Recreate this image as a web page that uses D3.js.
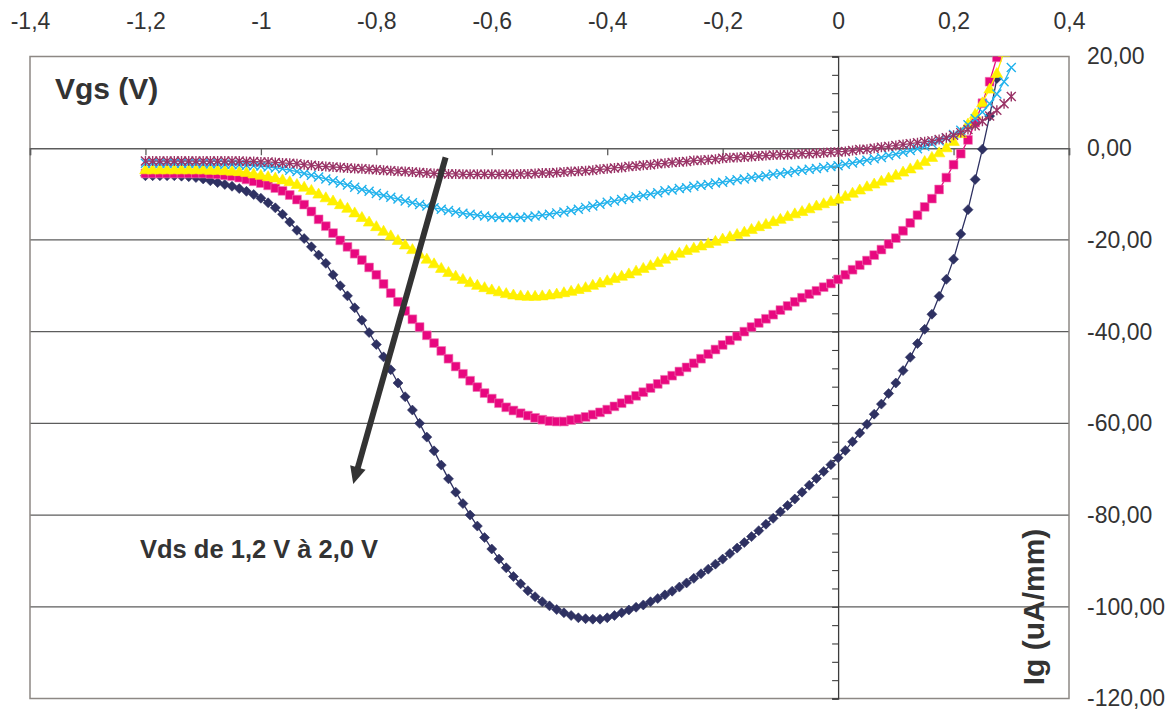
<!DOCTYPE html>
<html>
<head>
<meta charset="utf-8">
<script src="https://cdn.jsdelivr.net/npm/d3@7"></script>
<style>
  body { margin: 0; background: #fff; }
  svg { display: block; font-family: "Liberation Sans", Arial, sans-serif; }
</style>
</head>
<body>
<svg id="chart"></svg>
<script>
let svgWidth = 1174, svgHeight = 711

// Vgs sweep (V)
const vgs = [
  -1.2,-1.1875,-1.175,-1.1625,-1.15,-1.1375,-1.125,-1.1125,-1.1,-1.0875,
  -1.075,-1.0625,-1.05,-1.0375,-1.025,-1.0125,-1,-0.9875,-0.975,-0.9625,
  -0.95,-0.9375,-0.925,-0.9125,-0.9,-0.8875,-0.875,-0.8625,-0.85,-0.8375,
  -0.825,-0.8125,-0.8,-0.7875,-0.775,-0.7625,-0.75,-0.7375,-0.725,-0.7125,
  -0.7,-0.6875,-0.675,-0.6625,-0.65,-0.6375,-0.625,-0.6125,-0.6,-0.5875,
  -0.575,-0.5625,-0.55,-0.5375,-0.525,-0.5125,-0.5,-0.4875,-0.475,-0.4625,
  -0.45,-0.4375,-0.425,-0.4125,-0.4,-0.3875,-0.375,-0.3625,-0.35,-0.3375,
  -0.325,-0.3125,-0.3,-0.2875,-0.275,-0.2625,-0.25,-0.2375,-0.225,-0.2125,
  -0.2,-0.1875,-0.175,-0.1625,-0.15,-0.1375,-0.125,-0.1125,-0.1,-0.0875,
  -0.075,-0.0625,-0.05,-0.0375,-0.025,-0.0125,0,0.0125,0.025,0.0375,
  0.05,0.0625,0.075,0.0875,0.1,0.1125,0.125,0.1375,0.15,0.1625,
  0.175,0.1875,0.2,0.2125,0.225,0.2375,0.25,0.2625,0.275,0.2875,
  0.3
]

// Ig (uA/mm), one array per Vds curve
const igNavy = [
  -6.0,-6.0,-6.0,-6.0,-6.0,-6.1,-6.2,-6.4,-6.7,-7.1,
  -7.5,-7.9,-8.3,-8.8,-9.4,-10.1,-10.9,-11.9,-13.0,-14.4,
  -16.1,-17.9,-19.7,-21.5,-23.3,-25.1,-27.6,-30.0,-32.2,-34.8,
  -37.5,-40.2,-42.8,-45.5,-48.3,-51.2,-54.2,-57.1,-60.0,-63.0,
  -66.0,-69.1,-72.1,-75.0,-77.5,-80.0,-82.4,-84.9,-87.4,-89.6,
  -91.5,-93.4,-95.0,-96.5,-97.8,-98.9,-99.8,-100.6,-101.3,-101.9,
  -102.4,-102.6,-102.7,-102.7,-102.4,-101.9,-101.3,-100.7,-100.1,-99.6,
  -98.9,-98.2,-97.4,-96.6,-95.7,-94.8,-93.8,-92.8,-91.8,-90.7,
  -89.6,-88.4,-87.2,-86.0,-84.7,-83.4,-82.0,-80.7,-79.3,-77.9,
  -76.5,-75.0,-73.5,-72.0,-70.5,-69.0,-67.5,-65.9,-64.0,-62.1,
  -60.2,-58.0,-55.8,-53.5,-51.2,-48.5,-45.6,-42.6,-39.5,-36.2,
  -32.3,-28.6,-24.2,-18.7,-13.4,-6.8,-0.2,7.0,15.2
]
const igPink = [
  -5.5,-5.5,-5.5,-5.5,-5.5,-5.5,-5.5,-5.5,-5.5,-5.6,
  -5.7,-5.9,-6.1,-6.4,-6.8,-7.2,-7.6,-8.1,-8.7,-9.3,
  -10.2,-11.2,-12.3,-13.8,-15.5,-17.0,-18.5,-20.1,-21.5,-23.0,
  -24.4,-26.0,-27.6,-29.6,-31.6,-33.5,-35.5,-37.3,-39.0,-40.8,
  -42.5,-44.2,-45.9,-47.6,-49.2,-50.7,-52.1,-53.4,-54.6,-55.6,
  -56.5,-57.2,-57.8,-58.3,-58.8,-59.2,-59.5,-59.6,-59.6,-59.3,
  -59.0,-58.6,-58.1,-57.6,-57.0,-56.3,-55.6,-54.8,-54.0,-53.2,
  -52.3,-51.4,-50.5,-49.6,-48.7,-47.8,-46.9,-45.9,-44.9,-43.9,
  -42.9,-41.9,-41.0,-40.0,-39.0,-38.1,-37.2,-36.3,-35.3,-34.4,
  -33.5,-32.6,-31.8,-31.1,-30.3,-29.5,-28.6,-27.6,-26.5,-25.5,
  -24.5,-23.3,-22.1,-20.9,-19.6,-18.0,-16.3,-14.6,-12.8,-11.0,
  -9.0,-6.4,-3.6,-1.2,1.8,5.6,9.8,14.5,19.8
]
const igYellow = [
  -4.6,-4.6,-4.6,-4.6,-4.6,-4.6,-4.6,-4.6,-4.6,-4.7,
  -4.7,-4.8,-4.9,-5.0,-5.2,-5.5,-5.8,-6.1,-6.4,-6.8,
  -7.2,-7.8,-8.4,-9.1,-9.9,-10.7,-11.4,-12.2,-13.0,-14.0,
  -15.0,-16.0,-17.0,-18.0,-19.0,-20.0,-21.0,-22.0,-23.0,-24.1,
  -25.1,-26.1,-27.0,-27.8,-28.5,-29.2,-29.8,-30.3,-30.8,-31.2,
  -31.6,-31.9,-32.1,-32.2,-32.2,-32.1,-31.9,-31.7,-31.4,-31.1,
  -30.7,-30.3,-29.8,-29.3,-28.8,-28.3,-27.8,-27.3,-26.7,-26.1,
  -25.5,-24.8,-24.1,-23.4,-22.8,-22.2,-21.7,-21.2,-20.7,-20.2,
  -19.7,-19.2,-18.7,-18.2,-17.6,-17.0,-16.5,-15.9,-15.4,-14.8,
  -14.2,-13.7,-13.1,-12.5,-12.0,-11.5,-11.0,-10.4,-9.7,-9.0,
  -8.3,-7.7,-7.1,-6.4,-5.8,-5.1,-4.4,-3.6,-2.8,-1.9,
  -0.9,0.2,1.6,3.3,5.4,7.5,10.0,13.0,16.4,21.0
]
const igCyan = [
  -3.3,-3.3,-3.3,-3.3,-3.3,-3.3,-3.3,-3.3,-3.4,-3.4,
  -3.4,-3.5,-3.5,-3.6,-3.7,-3.8,-3.9,-4.1,-4.3,-4.5,
  -4.8,-5.1,-5.5,-5.9,-6.3,-6.7,-7.1,-7.6,-8.0,-8.5,
  -9.0,-9.4,-9.9,-10.3,-10.7,-11.1,-11.5,-11.9,-12.3,-12.6,
  -13.0,-13.3,-13.6,-13.9,-14.2,-14.4,-14.6,-14.8,-15.0,-15.1,
  -15.1,-15.1,-15.1,-15.0,-14.8,-14.6,-14.4,-14.1,-13.9,-13.6,
  -13.3,-12.9,-12.6,-12.2,-11.8,-11.5,-11.2,-10.9,-10.6,-10.3,
  -10.0,-9.7,-9.3,-9.1,-8.8,-8.6,-8.3,-8.1,-7.9,-7.6,
  -7.4,-7.1,-6.9,-6.7,-6.4,-6.2,-6.0,-5.7,-5.5,-5.3,
  -5.0,-4.8,-4.6,-4.4,-4.2,-4.0,-3.8,-3.5,-3.2,-2.9,
  -2.6,-2.3,-2.0,-1.6,-1.3,-0.9,-0.5,-0.1,0.4,1.0,
  1.6,2.2,3.0,3.9,5.1,6.4,7.9,9.7,11.8,14.5,
  17.6
]
const igMaroon = [
  -2.8,-2.8,-2.8,-2.8,-2.8,-2.8,-2.8,-2.8,-2.8,-2.8,
  -2.8,-2.8,-2.8,-2.8,-2.9,-2.9,-3.0,-3.0,-3.1,-3.2,
  -3.3,-3.4,-3.6,-3.7,-3.9,-4.0,-4.1,-4.2,-4.3,-4.4,
  -4.5,-4.6,-4.7,-4.8,-4.9,-5.0,-5.1,-5.2,-5.3,-5.4,
  -5.5,-5.5,-5.6,-5.6,-5.7,-5.7,-5.7,-5.7,-5.7,-5.7,
  -5.7,-5.7,-5.6,-5.6,-5.5,-5.4,-5.4,-5.3,-5.2,-5.1,
  -5.0,-4.9,-4.8,-4.6,-4.5,-4.3,-4.2,-4.0,-3.9,-3.7,
  -3.6,-3.4,-3.3,-3.1,-3.0,-2.9,-2.7,-2.6,-2.5,-2.4,
  -2.2,-2.1,-2.0,-1.9,-1.8,-1.7,-1.6,-1.5,-1.4,-1.4,
  -1.3,-1.2,-1.2,-1.1,-1.0,-0.9,-0.8,-0.7,-0.5,-0.3,
  -0.2,0.0,0.2,0.4,0.6,0.8,1.0,1.2,1.4,1.6,
  1.9,2.3,2.8,3.4,4.1,4.9,5.9,7.0,8.3,9.7,
  11.3
]

const xTicks = [-1.4, -1.2, -1, -0.8, -0.6, -0.4, -0.2, 0, 0.2, 0.4]
const yTicks = [20, 0, -20, -40, -60, -80, -100, -120]
const yMinorTicks = d3.range(-120, 20.1, 4)

const series = [
  { name: 'navy',   values: igNavy,   color: '#2e3162', marker: 'diamond' },
  { name: 'pink',   values: igPink,   color: '#e8087f', marker: 'square' },
  { name: 'yellow', values: igYellow, color: '#fff000', marker: 'triangle' },
  { name: 'cyan',   values: igCyan,   color: '#22b2ec', marker: 'x' },
  { name: 'maroon', values: igMaroon, color: '#9a3467', marker: 'star' }
]

const plot = { left: 30, right: 1069, top: 56.5, bottom: 698.5 }

let svg = d3.select('#chart').attr('width', svgWidth).attr('height', svgHeight)

let x = d3.scaleLinear().domain([-1.4, 0.4]).range([plot.left, plot.right])
let y = d3.scaleLinear().domain([-120, 20]).range([plot.bottom, plot.top])

const commaNum = d => String(d).replace('.', ',')

svg.append('defs').append('clipPath').attr('id', 'plotClip')
  .append('rect')
  .attr('x', plot.left).attr('y', plot.top)
  .attr('width', plot.right - plot.left).attr('height', plot.bottom - plot.top)

// horizontal gridlines
svg.append('g')
  .selectAll('line').data(yTicks.filter(d => d !== 20 && d !== -120 && d !== 0))
  .enter().append('line')
  .attr('x1', plot.left).attr('x2', plot.right)
  .attr('y1', d => y(d)).attr('y2', d => y(d))
  .attr('stroke', '#5c5c5c').attr('stroke-width', 1.2)

// plot frame
svg.append('rect')
  .attr('x', plot.left).attr('y', plot.top)
  .attr('width', plot.right - plot.left).attr('height', plot.bottom - plot.top)
  .attr('fill', 'none').attr('stroke', '#8d8884').attr('stroke-width', 1.5)

// x axis crossing at Ig = 0, ticks pointing down
let xAxisG = svg.append('g')
  .attr('transform', `translate(0,${y(0)})`)
  .call(d3.axisBottom(x).tickValues(xTicks).tickSize(7).tickFormat(''))
xAxisG.select('.domain').attr('stroke', '#5c5c5c').attr('stroke-width', 1.5)
xAxisG.selectAll('.tick line').attr('stroke', '#5c5c5c').attr('stroke-width', 1.3)

// y axis crossing at Vgs = 0, minor ticks to the left
let yAxisG = svg.append('g')
  .attr('transform', `translate(${x(0)},0)`)
  .call(d3.axisLeft(y).tickValues(yMinorTicks).tickSize(6).tickFormat(''))
yAxisG.select('.domain').attr('stroke', '#3c3c3c').attr('stroke-width', 1.3)
yAxisG.selectAll('.tick line').attr('stroke', '#3c3c3c').attr('stroke-width', 1.1)

// top tick labels
let xLabels = svg.append('g')
  .attr('transform', 'translate(0,21)')
  .call(d3.axisTop(x).tickValues(xTicks).tickSize(0).tickPadding(0).tickFormat(commaNum))
xLabels.select('.domain').remove()
xLabels.selectAll('text')
  .attr('dy', '0.35em')
  .style('font-size', '23px').style('fill', '#333')

// right tick labels
let yLabels = svg.append('g')
  .attr('transform', `translate(${plot.right},0)`)
  .call(d3.axisRight(y).tickValues(yTicks).tickSize(0).tickPadding(18)
    .tickFormat(d => d.toFixed(2).replace('.', ',')))
yLabels.select('.domain').remove()
yLabels.selectAll('text')
  .style('font-size', '23px').style('fill', '#333')

// marker shapes
function markerPath(kind){
  if(kind === 'diamond') return 'M0,-5L5,0L0,5L-5,0Z'
  if(kind === 'square') return 'M-4.4,-4.4H4.4V4.4H-4.4Z'
  if(kind === 'triangle') return 'M0,-5.5L5.8,4.5L-5.8,4.5Z'
  if(kind === 'x') return 'M-4.5,-4.5L4.5,4.5M-4.5,4.5L4.5,-4.5'
  return 'M-4.5,-4.5L4.5,4.5M-4.5,4.5L4.5,-4.5M0,-5V5'
}

let line = d3.line().x(d => x(d[0])).y(d => y(d[1]))

let seriesG = svg.append('g').attr('clip-path', 'url(#plotClip)')

series.forEach(s => {
  let pts = s.values.map((v, i) => [vgs[i], v])
  let g = seriesG.append('g').attr('class', 'series-' + s.name)
  g.append('path')
    .datum(pts)
    .attr('d', line)
    .attr('fill', 'none')
    .attr('stroke', s.color)
    .attr('stroke-width', 1.3)
  let filled = s.marker === 'diamond' || s.marker === 'square' || s.marker === 'triangle'
  g.selectAll('path.mk').data(pts)
    .enter().append('path')
    .attr('class', 'mk')
    .attr('transform', d => `translate(${x(d[0])},${y(d[1])})`)
    .attr('d', markerPath(s.marker))
    .attr('fill', filled ? s.color : 'none')
    .attr('stroke', filled ? (s.marker === 'square' ? '#f07ab5' : s.color) : s.color)
    .attr('stroke-width', filled ? 0.6 : 1.4)
})

// annotation arrow (Vds increasing)
const arrowFrom = [-0.68, -2], arrowTo = [-0.84, -73.2]
let ax0 = x(arrowFrom[0]), ay0 = y(arrowFrom[1]), ax1 = x(arrowTo[0]), ay1 = y(arrowTo[1])
let len = Math.hypot(ax1 - ax0, ay1 - ay0)
let ux = (ax1 - ax0) / len, uy = (ay1 - ay0) / len
let headLen = 17, headW = 8
svg.append('line')
  .attr('x1', ax0).attr('y1', ay0)
  .attr('x2', ax1 - ux * (headLen - 2)).attr('y2', ay1 - uy * (headLen - 2))
  .attr('stroke', '#333').attr('stroke-width', 6)
svg.append('path')
  .attr('d', `M${ax1},${ay1}L${ax1 - ux * headLen - uy * headW},${ay1 - uy * headLen + ux * headW}` +
    `L${ax1 - ux * headLen + uy * headW},${ay1 - uy * headLen - ux * headW}Z`)
  .attr('fill', '#333')

// titles
svg.append('text')
  .attr('x', 55).attr('y', 99)
  .style('font-size', '30px').style('font-weight', 'bold').style('fill', '#333')
  .text('Vgs (V)')

svg.append('text')
  .attr('x', 140).attr('y', 558)
  .style('font-size', '25.5px').style('font-weight', 'bold').style('fill', '#333')
  .text('Vds de 1,2 V à 2,0 V')

svg.append('text')
  .attr('transform', 'translate(1044,607) rotate(-90)')
  .attr('text-anchor', 'middle')
  .style('font-size', '30px').style('font-weight', 'bold').style('fill', '#333')
  .text('Ig (uA/mm)')
</script>
</body>
</html>
